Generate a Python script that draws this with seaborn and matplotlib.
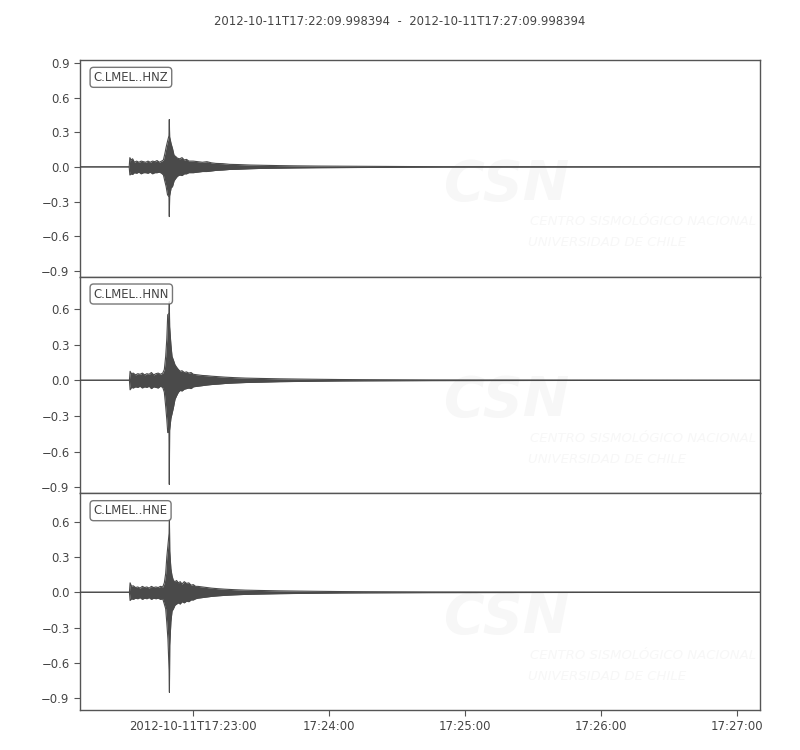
"""
Three-component accelerogram, station C.LMEL, 2012-10-11.
Envelopes (upper/lower) read off the reference picture, in seconds from window start.
"""

import matplotlib
matplotlib.use("Agg")
import matplotlib.pyplot as plt
import numpy as np
import seaborn as sns

# window
title = "2012-10-11T17:22:09.998394  -  2012-10-11T17:27:09.998394"
window_len = 300.0  # seconds
xtick_pos = [50, 110, 170, 230, 290]
xtick_labels = ["2012-10-11T17:23:00", "17:24:00", "17:25:00", "17:26:00", "17:27:00"]
ytick_vals = [-0.9, -0.6, -0.3, 0.0, 0.3, 0.6, 0.9]

channels = ["C.LMEL..HNZ", "C.LMEL..HNN", "C.LMEL..HNE"]
ylims = [(-0.95, 0.925), (-0.95, 0.87), (-1.0, 0.84)]

# HNZ
t_hnz = [0, 21.7, 22.0, 22.5, 23.2, 24, 25, 26, 27, 28, 29, 30, 31, 32, 33, 34, 35, 36,
         36.8, 37.5, 38.0, 38.6, 39.25, 39.4, 39.55, 40.2, 40.8, 41.5, 42.2, 43, 44, 45, 46,
         47, 48, 50, 52, 54, 56, 58, 60, 63, 66, 70, 75, 80, 88, 95, 105, 115, 125, 135,
         145, 160, 300]
up_hnz = [0, 0, 0.08, 0.06, 0.07, 0.04, 0.05, 0.04, 0.05, 0.045, 0.04, 0.05, 0.04, 0.05,
          0.045, 0.055, 0.04, 0.05, 0.06, 0.12, 0.17, 0.22, 0.27, 0.41, 0.26, 0.20, 0.16,
          0.10, 0.09, 0.075, 0.07, 0.08, 0.06, 0.065, 0.05, 0.05, 0.045, 0.04, 0.045, 0.035,
          0.03, 0.028, 0.022, 0.02, 0.016, 0.014, 0.011, 0.009, 0.007, 0.006, 0.005, 0.004,
          0.003, 0.002, 0.0]
lo_hnz = [0, 0, -0.07, -0.06, -0.065, -0.05, -0.055, -0.045, -0.06, -0.05, -0.05, -0.055,
          -0.045, -0.06, -0.05, -0.05, -0.045, -0.055, -0.07, -0.13, -0.17, -0.24, -0.26,
          -0.43, -0.25, -0.18, -0.17, -0.12, -0.1, -0.08, -0.07, -0.075, -0.06, -0.06, -0.05,
          -0.05, -0.045, -0.04, -0.04, -0.035, -0.03, -0.027, -0.022, -0.02, -0.016, -0.013,
          -0.011, -0.009, -0.007, -0.006, -0.005, -0.004, -0.003, -0.002, 0]

# HNN
t_hnn = [0, 21.8, 22.1, 22.7, 23.5, 24.5, 25.5, 26.5, 27.5, 28.5, 29.5, 30.5, 31.5, 32.5,
         33.5, 34.5, 35.5, 36.5, 37.2, 37.8, 38.3, 38.7, 39.25, 39.4, 39.55, 40.1, 40.6, 41.2,
         41.9, 42.6, 43.4, 44.2, 45, 46, 47, 48, 49, 50, 52, 54, 56, 58, 61, 64, 68, 73, 80,
         88, 96, 105, 115, 125, 140, 155, 300]
up_hnn = [0, 0, 0.075, 0.055, 0.06, 0.045, 0.055, 0.05, 0.06, 0.045, 0.055, 0.05, 0.065,
          0.045, 0.055, 0.06, 0.05, 0.06, 0.09, 0.2, 0.35, 0.55, 0.56, 0.66, 0.45, 0.3, 0.2,
          0.17, 0.13, 0.11, 0.09, 0.075, 0.08, 0.065, 0.07, 0.06, 0.065, 0.05, 0.045, 0.04,
          0.038, 0.034, 0.03, 0.026, 0.022, 0.018, 0.015, 0.012, 0.01, 0.008, 0.006, 0.005,
          0.004, 0.003, 0]
lo_hnn = [0, 0, -0.08, -0.06, -0.065, -0.055, -0.06, -0.05, -0.065, -0.055, -0.06, -0.05,
          -0.07, -0.055, -0.06, -0.065, -0.05, -0.06, -0.1, -0.22, -0.33, -0.44, -0.43,
          -0.875, -0.42, -0.32, -0.28, -0.23, -0.16, -0.13, -0.1, -0.085, -0.09, -0.075,
          -0.07, -0.065, -0.07, -0.055, -0.05, -0.045, -0.04, -0.036, -0.032, -0.027, -0.023,
          -0.019, -0.016, -0.012, -0.01, -0.008, -0.006, -0.005, -0.004, -0.003, 0]

# HNE
t_hne = [0, 21.8, 22.1, 22.7, 23.5, 24.5, 25.5, 26.5, 27.5, 28.5, 29.5, 30.5, 31.5, 32.5,
         33.5, 34.5, 35.5, 36.5, 37.2, 37.8, 38.3, 38.8, 39.3, 39.45, 39.6, 40.1, 40.6, 41.2,
         41.9, 42.6, 43.4, 44.2, 45, 46, 47, 48, 49, 50, 51, 52, 54, 56, 58, 61, 64, 68, 73,
         80, 88, 96, 105, 115, 125, 140, 155, 300]
up_hne = [0, 0, 0.08, 0.05, 0.055, 0.04, 0.045, 0.035, 0.05, 0.04, 0.045, 0.035, 0.05, 0.04,
          0.045, 0.04, 0.05, 0.045, 0.08, 0.16, 0.3, 0.4, 0.5, 0.62, 0.35, 0.2, 0.14, 0.1,
          0.09, 0.1, 0.08, 0.09, 0.07, 0.09, 0.075, 0.08, 0.06, 0.065, 0.05, 0.05, 0.045,
          0.04, 0.035, 0.03, 0.026, 0.022, 0.018, 0.015, 0.012, 0.01, 0.008, 0.006, 0.005,
          0.004, 0.003, 0]
lo_hne = [0, 0, -0.07, -0.055, -0.06, -0.05, -0.055, -0.045, -0.06, -0.05, -0.055, -0.045,
          -0.06, -0.05, -0.055, -0.05, -0.06, -0.055, -0.1, -0.14, -0.26, -0.4, -0.66, -0.85,
          -0.45, -0.25, -0.16, -0.14, -0.11, -0.1, -0.09, -0.1, -0.08, -0.09, -0.075, -0.08,
          -0.065, -0.065, -0.055, -0.05, -0.045, -0.04, -0.035, -0.03, -0.026, -0.022, -0.018,
          -0.015, -0.012, -0.01, -0.008, -0.006, -0.005, -0.004, -0.003, 0]

traces = [(t_hnz, up_hnz, lo_hnz), (t_hnn, up_hnn, lo_hnn), (t_hne, up_hne, lo_hne)]

TRACE = "#4a4a4a"
EDGE = "#555555"
TXT = "#444444"
WM = "#f7f7f7"

sns.set_theme(style="ticks")
plt.rcParams["font.family"] = ["DejaVu Sans"]
plt.rcParams["axes.edgecolor"] = EDGE
plt.rcParams["xtick.color"] = EDGE
plt.rcParams["ytick.color"] = EDGE
plt.rcParams["xtick.labelcolor"] = TXT
plt.rcParams["ytick.labelcolor"] = TXT
plt.rcParams["text.color"] = TXT

fig, axes = plt.subplots(3, 1, figsize=(8, 7.5), dpi=100, sharex=True)
fig.subplots_adjust(left=0.1, right=0.95, top=0.92, bottom=0.0533, hspace=0)

for ax, name, (t, up, lo), yl in zip(axes, channels, traces, ylims):
    # faint station watermark
    ax.text(0.627, 0.424, "CSN", transform=ax.transAxes, ha="center", va="center",
            fontsize=40, fontweight="bold", fontstyle="italic", color=WM, zorder=0)
    ax.text(0.662, 0.253, "CENTRO SISMOLÓGICO NACIONAL", transform=ax.transAxes,
            ha="left", va="center", fontsize=9.5, fontstyle="italic", color=WM, zorder=0)
    ax.text(0.659, 0.157, "UNIVERSIDAD DE CHILE", transform=ax.transAxes,
            ha="left", va="center", fontsize=9.5, fontstyle="italic", color=WM, zorder=0)

    t = np.asarray(t, float)
    ax.fill_between(t, lo, up, color=TRACE, lw=0, zorder=2)
    sns.lineplot(x=t, y=up, ax=ax, color=TRACE, lw=0.8, sort=False, estimator=None, zorder=3)
    sns.lineplot(x=t, y=lo, ax=ax, color=TRACE, lw=0.8, sort=False, estimator=None, zorder=3)

    ax.set_yticks(ytick_vals)
    ax.set_yticklabels([f"{v:.1f}".replace("-", "\u2212") for v in ytick_vals])
    ax.set_ylim(*yl)
    ax.tick_params(axis="y", labelsize=8.4, length=4, width=0.8)
    ax.set_xlim(0, window_len)
    ax.set_ylabel("")
    for sp in ax.spines.values():
        sp.set_visible(True)
        sp.set_linewidth(1.0)
        sp.set_color(EDGE)
    ax.text(0.02, 0.95, name, transform=ax.transAxes, ha="left", va="top", fontsize=8.4,
            bbox=dict(boxstyle="round", fc="w", ec="#555555", alpha=0.8), zorder=5)
    ax.tick_params(axis="x", bottom=False, labelbottom=False)

bax = axes[-1]
bax.set_xticks(xtick_pos)
bax.set_xticklabels(xtick_labels, fontsize=8.4)
bax.tick_params(axis="x", bottom=True, labelbottom=True, length=4, width=0.8)

fig.suptitle(title, fontsize=8.4, y=0.98, color=TXT)
fig.savefig("out.png", dpi=100)
